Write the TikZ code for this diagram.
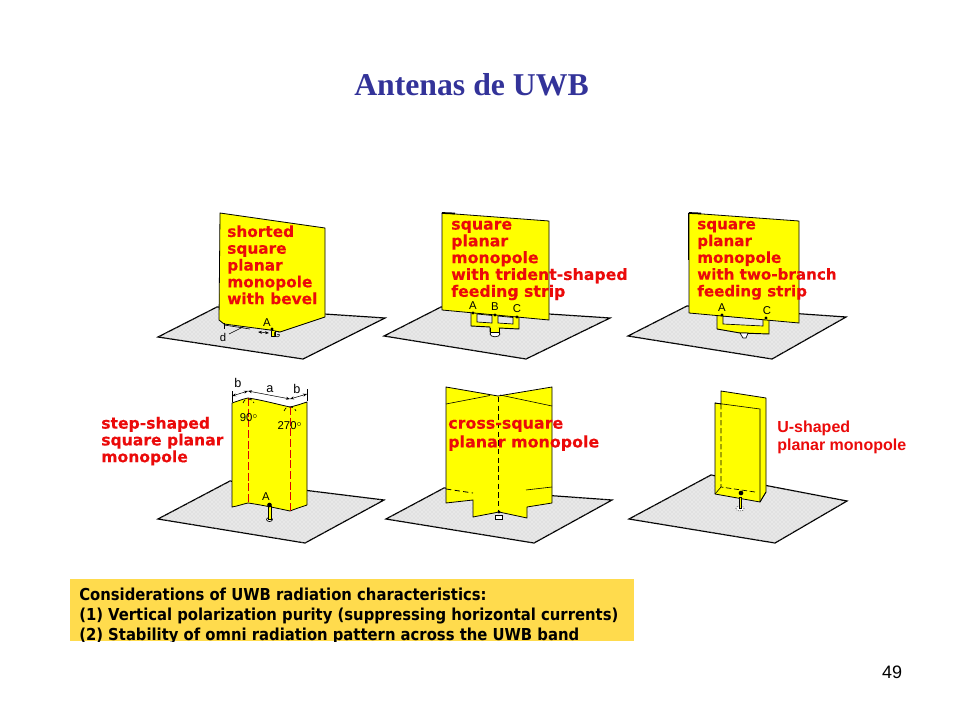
\documentclass[tikz,border=0pt]{standalone}
\usepackage{fontspec}
\setmainfont{Liberation Serif}
\setsansfont{Liberation Sans}
\newfontfamily\redfont{DejaVu Sans}[FakeBold=0.12]
\newfontfamily\notefont{DejaVu Sans Condensed}
\usetikzlibrary{patterns,arrows.meta}
\definecolor{titleblue}{RGB}{51,51,153}
\definecolor{plateyellow}{RGB}{255,255,0}
\definecolor{boxorange}{RGB}{255,219,77}
\definecolor{groundgray}{RGB}{232,232,232}
\definecolor{labelred}{RGB}{235,10,10}
\tikzset{
  x=0.75pt,y=-0.75pt,
  groundplate/.style={fill=groundgray,draw=black,line width=0.9pt,postaction={pattern=crosshatch dots,pattern color=black!20}},
  holegray/.style={fill=groundgray,draw=black,line width=0.5pt},
  yellowplate/.style={fill=plateyellow,draw=black,line width=0.6pt,line join=round},
  yellowstrip/.style={fill=plateyellow,draw=black,line width=0.7pt,line join=round},
  thickedge/.style={draw=black,line width=1.3pt},
  foldline/.style={draw=black,line width=0.6pt,dash pattern=on 4pt off 2.5pt},
  redfold/.style={draw=red!85!black,line width=0.6pt,dash pattern=on 6pt off 2pt},
  redlabel/.style={text=labelred,font=\redfont\fontsize{#1pt}{12.6pt}\selectfont\bfseries,anchor=north west,align=left,inner sep=0pt},
  redthin/.style={text=labelred,font=\sffamily\fontsize{12pt}{13pt}\selectfont\bfseries,anchor=north west,align=left,inner sep=0pt},
  dimlabel/.style={font=\sffamily\fontsize{8.5pt}{9pt}\selectfont,inner sep=0pt,text=black},
  feeddot/.style={circle,fill=black,inner sep=0pt,minimum size=3.5pt},
  smalldot/.style={circle,fill=black,inner sep=0pt,minimum size=2.6pt},
  feedpin/.style={draw=black,fill=plateyellow,line width=0.5pt},
  feedring/.style={draw=black,fill=white,line width=0.5pt},
  dimline/.style={draw=black,line width=0.4pt,{Stealth[length=3pt]}-{Stealth[length=3pt]}},
  thinline/.style={draw=black,line width=0.45pt},
}
\begin{document}
\begin{tikzpicture}
\useasboundingbox (0,0) rectangle (960,720);
\fill[white] (0,0) rectangle (960,720);
% title and page number
\node[font=\fontsize{23.8pt}{26pt}\selectfont\bfseries,text=titleblue,inner sep=0pt] (title) at (471.5,85) {Antenas de UWB};
\node[font=\sffamily\fontsize{13.5pt}{15pt}\selectfont,inner sep=0pt] (page) at (892,672) {49};

% panel 1
\path[groundplate] (158,337) -- (217,307) -- (385,318) -- (303,359) -- cycle;
\draw[yellowplate] (220,213) -- (325,228) -- (325,317) -- (280,332) -- (270,330) -- (224,324) -- (219,320) -- cycle;
\draw[yellowstrip] (271,331) -- (271,336) -- (275,336) -- (275,331);
\node[redlabel=11.5] (t1) at (227,225) {shorted\\square\\planar\\monopole\\with bevel};
\node[dimlabel] (a1) at (267,323) {A};
\node[dimlabel] (d1) at (223,337) {d};
\node[dimlabel,font=\sffamily\fontsize{6.5pt}{7pt}\selectfont] (g1) at (277,335) {G};
\node[smalldot] (f1) at (272,329) {};
\coordinate (d1a) at (224,325);
\coordinate (d1b) at (269,333);
\draw[thinline] (224,323) -- (224,329);
\draw[thinline] (d1a) -- (250,329);
\draw[dimline] (258,332) -- (d1b);
\draw[thinline] (229,334) -- (243,327);

% panel 2
\path[groundplate] (384,336) -- (441,307) -- (610,318) -- (526,359) -- cycle;
\draw[yellowstrip] (471,312) -- (471,326) -- (490,327) -- (490,332) -- (499,332) -- (499,328) -- (519,329) -- (519,316) -- cycle;
\draw[feedring] (495,334) ellipse (5 and 2.8);
\draw[yellowstrip] (490,328) -- (490,332) -- (499,332) -- (499,328);
\draw[holegray] (477,314) -- (492,315.5) -- (492,323) -- (477,322) -- cycle;
\draw[holegray] (498,316) -- (513,317.5) -- (513,324) -- (498,323) -- cycle;
\draw[yellowplate] (442,213) -- (549,221) -- (549,320) -- (442,310) -- cycle;
\draw[thickedge] (442,213) -- (455,213.5);
\node[redlabel=11.8] (t2) at (451,220.5) {square\\planar\\monopole\\with trident-shaped\\feeding strip};
\node[dimlabel] (a2) at (473,306) {A};
\node[dimlabel] (b2) at (495,307) {B};
\node[dimlabel] (c2) at (517,309) {C};
\node[smalldot] (f2a) at (473,313) {};
\node[smalldot] (f2b) at (495,315) {};
\node[smalldot] (f2c) at (517,317) {};

% panel 3
\path[groundplate] (628,336) -- (687,306) -- (846,317) -- (772,359) -- cycle;
\draw[yellowstrip] (717,315) -- (717,329) -- (740,333) -- (769,334) -- (769,319) -- cycle;
\draw[feedring] (740,333) -- (743,338) -- (746,338) -- (748,333) -- cycle;
\draw[holegray] (723,316) -- (723,324) -- (763,326) -- (763,319) -- cycle;
\draw[yellowplate] (689,213) -- (799,221) -- (799,323) -- (689,313) -- cycle;
\draw[thickedge] (688.5,213) -- (688.5,260);
\draw[thickedge] (689,213) -- (701,213.5);
\node[redlabel=11.35] (t3) at (697,220.5) {square\\planar\\monopole\\with two-branch\\feeding strip};
\node[dimlabel] (a3) at (722,308) {A};
\node[dimlabel] (c3) at (767,311) {C};
\node[smalldot] (f3a) at (722,315) {};
\node[smalldot] (f3c) at (766,318) {};

% panel 4
\path[groundplate] (158,519) -- (230,481) -- (384,500) -- (305,543) -- cycle;
\draw[yellowplate] (232,403) .. controls (238,401) and (243,399) .. (248,398) .. controls (262,400) and (276,404) .. (290,407) .. controls (295,406) and (301,404) .. (307,402) -- (307,505) .. controls (301,507) and (295,509) .. (290,511) .. controls (276,508) and (262,505) .. (248,503) .. controls (243,504) and (238,506) .. (232,507) -- cycle;
\draw[redfold] (248,398) -- (248,503);
\draw[redfold] (290,407) -- (290,511);
\node[redlabel=11.7] (t4) at (101,416.5) {step-shaped\\square planar\\monopole};
\node[dimlabel,font=\sffamily\fontsize{9.5pt}{10pt}\selectfont] (b4l) at (238,383) {b};
\node[dimlabel,font=\sffamily\fontsize{9.5pt}{10pt}\selectfont] (a4) at (270,389) {a};
\node[dimlabel,font=\sffamily\fontsize{9.5pt}{10pt}\selectfont] (b4r) at (297,389) {b};
\coordinate (dl) at (232,396);
\coordinate (dm) at (248,391);
\coordinate (dr) at (290,399);
\coordinate (de) at (307,394);
\draw[dimline] (dl) -- (dm);
\draw[dimline] (dm) -- (dr);
\draw[dimline] (dr) -- (de);
\draw[thinline] (232,391) -- (232,402) (307,389) -- (307,401);
\node[dimlabel] (n90) at (249,418) {90$^{\circ}$};
\node[dimlabel] (n270) at (290,426) {270$^{\circ}$};
\draw[line width=0.5pt,densely dashed] (243,403) arc (180:360:5.5 and 4);
\draw[line width=0.5pt,densely dashed] (284,411) arc (180:360:6 and 4);
\node[dimlabel] (a4f) at (266,497) {A};
\draw[feedring] (269.5,519.5) ellipse (3 and 2);
\draw[feedpin] (268,506) rectangle (271,519);
\node[feeddot] (f4) at (269.5,505) {};

% panel 5
\path[groundplate] (386,519) -- (444,488) -- (612,500) -- (534,543) -- cycle;
\draw[feedring] (495,515) rectangle (502,519);
\draw[yellowplate] (446,387) -- (498,396) -- (552,387) -- (552,503) -- (527,507) -- (527,518) -- (499,512) -- (473,517) -- (473,500) -- (446,503) -- cycle;
\draw[thinline] (446,404) -- (490,395.5) (500,395) -- (552,406);
\draw[foldline] (498,397) -- (498,511);
\draw[foldline] (446,489) -- (473,493);
\draw[thinline] (526,490) -- (552,487);
\node[smalldot] (f5) at (499,512) {};
\node[redlabel=11.9] (t5) at (448,419.5) {cross-square\\[1.5pt]planar monopole};

% panel 6
\path[groundplate] (629,519) -- (711,475) -- (847,501) -- (775,543) -- cycle;
\draw[yellowplate] (721,391) -- (766,398) -- (766,492) -- (760,502) -- (715,494) -- (715,403) -- (721,404) -- cycle;
\draw[thinline] (715,403) -- (760,409) -- (760,502);
\draw[line width=0.5pt,dash pattern=on 4pt off 2pt] (721,404) -- (721,487) -- (755,492);
\draw[thinline] (715,494) -- (721,487) (760,502) -- (766,492);
\draw[feedring,densely dotted] (740,508.5) ellipse (4 and 2.5);
\draw[feedpin] (739,497) rectangle (741.5,508);
\node[feeddot] (f6) at (741,493) {};
\node[redthin] (t6a) at (777,421) {U-shaped};
\node[redthin] (t6b) at (777,439) {planar monopole};

% note box
\fill[boxorange] (70,579) rectangle (634,641);
\begin{scope}
\clip (70,579) rectangle (634,641);
\node[anchor=north west,inner sep=0pt,align=left,font=\notefont\fontsize{12.35pt}{15pt}\selectfont\bfseries] (note) at (79,588) {Considerations of UWB radiation characteristics:\\(1) Vertical polarization purity (suppressing horizontal currents)\\(2) Stability of omni radiation pattern across the UWB band};
\end{scope}
\end{tikzpicture}
\end{document}
